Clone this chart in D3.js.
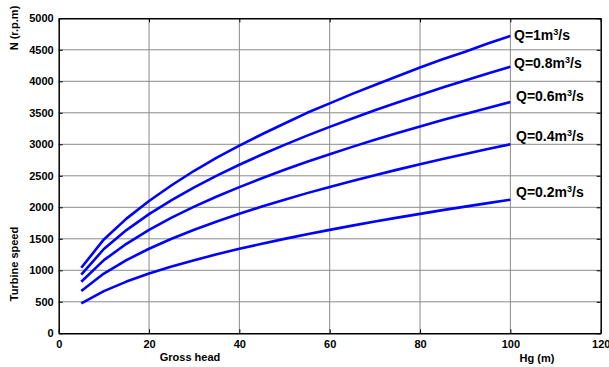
<!DOCTYPE html>
<html><head><meta charset="utf-8">
<script src="https://cdn.jsdelivr.net/npm/d3@7"></script>
<style>html,body{margin:0;padding:0;background:#fff;}svg{display:block;font-family:"Liberation Sans",Arial,sans-serif;font-weight:bold;}</style>
</head><body>
<script>
const heads = [5,10,15,20,25,30,35,40,45,50,55,60,65,70,75,80,85,90,95,100];
const seriesNames = ["Q=1","Q=0.8","Q=0.6","Q=0.4","Q=0.2"];
const q1  = [1040,1490,1820,2100,2350,2580,2790,2980,3160,3330,3500,3650,3800,3940,4080,4220,4350,4470,4600,4720];
const q08 = [930,1338,1638,1892,2115,2317,2503,2675,2838,2991,3137,3277,3410,3539,3663,3783,3900,4013,4123,4230];
const q06 = [819,1161,1421,1641,1835,2010,2171,2321,2462,2595,2722,2843,2959,3071,3178,3283,3384,3482,3577,3670];
const q04 = [672,949,1162,1342,1500,1643,1775,1897,2012,2121,2225,2324,2419,2510,2598,2683,2766,2846,2924,3000];
const q02 = [476,670,821,948,1060,1161,1254,1341,1422,1499,1572,1642,1709,1774,1836,1896,1955,2011,2066,2120];
const xTicks = [0,20,40,60,80,100,120];
const yTicks = [0,500,1000,1500,2000,2500,3000,3500,4000,4500,5000];
const labelNums = ["1","0.8","0.6","0.4","0.2"];

const W=609,H=367;
const svg=d3.select("body").append("svg").attr("width",W).attr("height",H);
const x=d3.scaleLinear().domain([0,120]).range([58.7,600.7]);
const y=d3.scaleLinear().domain([0,5000]).range([333.3,18.3]);

// grid
const grid=svg.append("g").attr("stroke","#8a8a8a").attr("stroke-width",1);
xTicks.slice(1,-1).forEach(t=>grid.append("line").attr("x1",x(t)).attr("x2",x(t)).attr("y1",y(0)).attr("y2",y(5000)));
yTicks.slice(1,-1).forEach(t=>grid.append("line").attr("y1",y(t)).attr("y2",y(t)).attr("x1",x(0)).attr("x2",x(120)));

// axes
const fmt=d3.format("d");
const ax=svg.append("g").attr("transform",`translate(0,${y(0)})`).call(d3.axisBottom(x).tickValues(xTicks).tickFormat(fmt).tickSizeInner(-4).tickSizeOuter(0).tickPadding(7));
const ay=svg.append("g").attr("transform",`translate(${x(0)},0)`).call(d3.axisLeft(y).tickValues(yTicks).tickFormat(fmt).tickSizeInner(-4).tickSizeOuter(0).tickPadding(5));
const at=svg.append("g").attr("transform",`translate(0,${y(5000)})`).call(d3.axisTop(x).tickValues(xTicks).tickSizeInner(-4).tickSizeOuter(0).tickFormat(""));
const ar=svg.append("g").attr("transform",`translate(${x(120)},0)`).call(d3.axisRight(y).tickValues(yTicks).tickSizeInner(-4).tickSizeOuter(0).tickFormat(""));
[ax,ay,at,ar].forEach(a=>{a.selectAll("path,line").attr("stroke","#000");a.select("path").attr("stroke-width",1.5);a.selectAll("text").attr("fill","#000").style("font-size","11px").style("font-weight","bold").style("font-family","'Liberation Sans',Arial,sans-serif");});

// lines
const all=[q1,q08,q06,q04,q02];
const line=d3.line().x((d,i)=>x(heads[i])).y(d=>y(d));
svg.append("g").selectAll("path").data(all).join("path")
  .attr("d",d=>line(d)).attr("fill","none").attr("stroke","#0000ff").attr("stroke-width",2.6).attr("stroke-linejoin","round");

// labels
const labY=[35,63,96,136,192];
const labX=[514,514,516,516,516];
labelNums.forEach((n,i)=>{
  const t=svg.append("text").attr("x",labX[i]).attr("y",labY[i]+5).style("font-size","14px").attr("fill","#000");
  t.append("tspan").text("Q="+n+"m");
  t.append("tspan").text("3").attr("dy",-5).style("font-size","9px");
  t.append("tspan").text("/s").attr("dy",5);
});

// axis titles
svg.append("text").attr("x",190).attr("y",361).attr("text-anchor","middle").style("font-size","11px").text("Gross head");
svg.append("text").attr("x",537).attr("y",362).attr("text-anchor","middle").style("font-size","11px").text("Hg (m)");
svg.append("text").attr("transform","translate(17.5,28) rotate(-90)").attr("text-anchor","middle").style("font-size","11px").text("N (r.p.m)");
svg.append("text").attr("transform","translate(18,264) rotate(-90)").attr("text-anchor","middle").style("font-size","11px").text("Turbine speed");
</script>
</body></html>
